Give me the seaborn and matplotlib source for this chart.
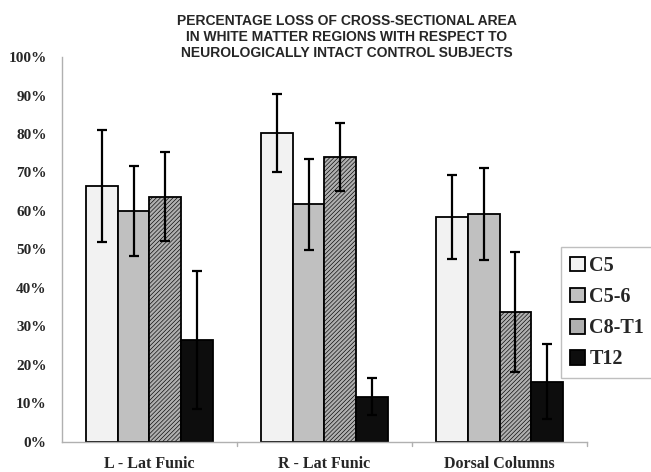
import matplotlib
matplotlib.use("Agg")
import matplotlib.pyplot as plt
import seaborn as sns
import pandas as pd

# values (fraction of 1)
regions = ["L - Lat Funic", "R - Lat Funic", "Dorsal Columns"]
levels = ["C5", "C5-6", "C8-T1", "T12"]
c5 = [0.665, 0.802, 0.585]
c56 = [0.600, 0.617, 0.592]
c8t1 = [0.637, 0.740, 0.337]
t12 = [0.264, 0.117, 0.156]
c5_err = [0.146, 0.102, 0.109]
c56_err = [0.118, 0.118, 0.120]
c8t1_err = [0.116, 0.088, 0.156]
t12_err = [0.179, 0.048, 0.098]

values = [c5, c56, c8t1, t12]
errors = [c5_err, c56_err, c8t1_err, t12_err]

rows = []
for lev, vals in zip(levels, values):
    for reg, v in zip(regions, vals):
        rows.append({"region": reg, "level": lev, "loss": v})
df = pd.DataFrame(rows)

sns.set_style("white")
plt.rcParams["hatch.color"] = "#7a7a7a"
plt.rcParams["hatch.linewidth"] = 0.45

fig = plt.figure(figsize=(6.51, 4.72), dpi=100)
ax = fig.add_axes([0.0952, 0.0642, 0.8065, 0.8148])

face = ["#f2f2f2", "#c0c0c0", "#b0b0b0", "#0d0d0d"]
hatches = ["", "", "////////", ""]
sns.barplot(data=df, x="region", y="loss", hue="level", hue_order=levels,
            palette=face, width=0.73, edgecolor="black", linewidth=1.3,
            errorbar=None, ax=ax)

for cont, hatch, errs in zip(ax.containers, hatches, errors):
    xs = []
    hs = []
    for p in cont.patches:
        p.set_hatch(hatch)
        xs.append(p.get_x() + p.get_width() / 2)
        hs.append(p.get_height())
    ax.errorbar(xs, hs, yerr=errs, fmt="none", ecolor="black",
                elinewidth=1.6, capsize=3.5, capthick=1.6, zorder=5)

ax.set_ylim(0, 1.0)
ax.set_xlim(-0.5, 2.5)
ax.set_yticks([i / 10 for i in range(11)])
ax.set_yticklabels([f"{i * 10}%" for i in range(11)],
                   fontfamily="Liberation Serif", fontweight="bold", fontsize=11)
ax.set_xticks([0, 1, 2])
ax.set_xticklabels(regions, fontfamily="Liberation Serif",
                   fontweight="bold", fontsize=11.5)
ax.tick_params(axis="x", length=0, pad=10)
ax.tick_params(axis="y", length=4, color="#b0b0b0", width=1, pad=7)
ax.set_xlabel("")
ax.set_ylabel("")
sns.despine(ax=ax)
for s in ["left", "bottom"]:
    ax.spines[s].set_color("#b0b0b0")
    ax.spines[s].set_linewidth(1)

# separator marks under the x axis between categories
for xb in [0.5, 1.5, 2.5]:
    ax.plot([xb, xb], [0, -0.012], color="#b0b0b0", lw=1, clip_on=False)

leg = ax.legend(loc="upper left", bbox_to_anchor=(561 / 651, (472 - 247) / 472),
                bbox_transform=fig.transFigure, frameon=True, fancybox=False,
                handlelength=0.75, handleheight=0.75, handletextpad=0.2,
                labelspacing=0.55, borderpad=0.45, borderaxespad=0,
                prop={"family": "Liberation Serif", "weight": "bold", "size": 14.5})
leg.get_frame().set_edgecolor("#b0b0b0")
leg.get_frame().set_linewidth(1)

fig.text(347 / 651, 1 - 14 / 472,
         "PERCENTAGE LOSS OF CROSS-SECTIONAL AREA\n"
         "IN WHITE MATTER REGIONS WITH RESPECT TO\n"
         "NEUROLOGICALLY INTACT CONTROL SUBJECTS",
         ha="center", va="top", fontfamily="Liberation Sans",
         fontweight="bold", fontsize=10, linespacing=1.2)

fig.savefig("out.png", dpi=100)
